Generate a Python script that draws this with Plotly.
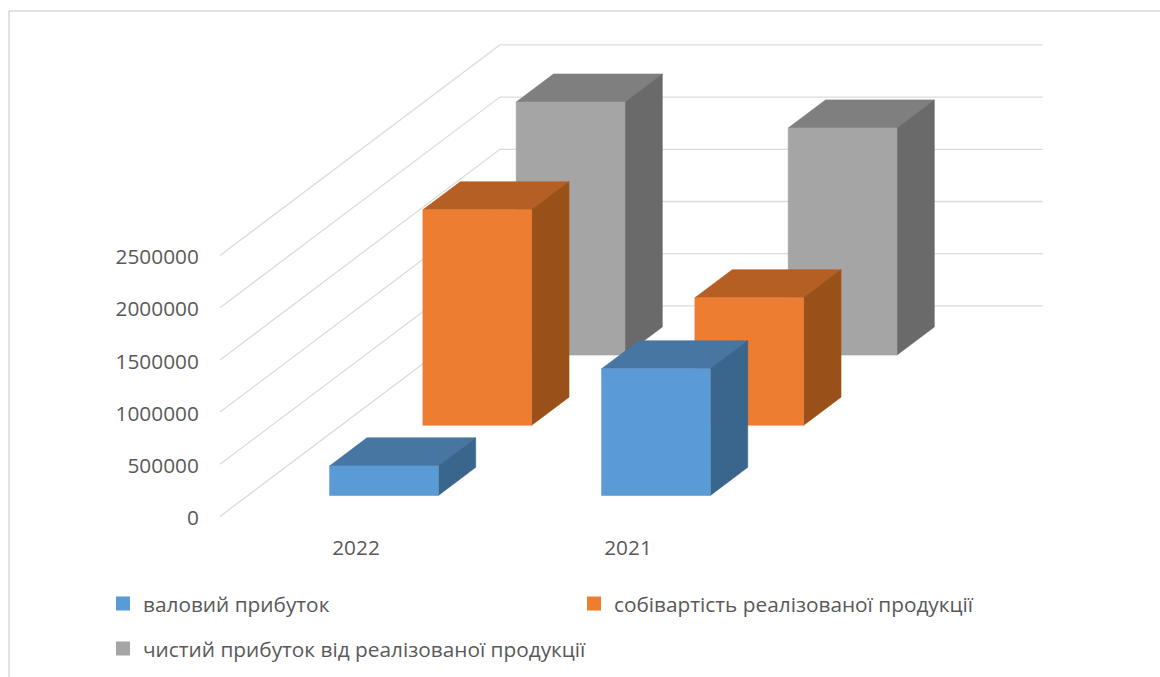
import plotly.graph_objects as go

categories = ["2022", "2021"]
series_names = ["валовий прибуток", "собівартість реалізованої продукції", "чистий прибуток від реалізованої продукції"]
values_gross = [283000, 1213000]
values_cost = [2063000, 1221000]
values_net = [2423000, 2175000]
tick_values = [0, 500000, 1000000, 1500000, 2000000, 2500000]

W, H = 1160, 677
X0, Y0 = 220.0, 516.5          # pixel position of the front-left floor corner
CAT_PX = 272.0                 # pixels per category
VAL_PX = 52.2 / 500000         # pixels per unit of value
DEPTH_X, DEPTH_Y = 93.3, 70.2  # pixel shift per series along the depth axis
LABEL_SHIFT = 1.5              # tick labels sit slightly below their gridline starts
FONT = "Open Sans"
TEXT = "#595959"
GRID = "#dcdcdc"

palette = [
    dict(front="#5B9BD5", top="#4776A2", side="#3A658C"),
    dict(front="#ED7D31", top="#B55F25", side="#9A5119"),
    dict(front="#A5A5A5", top="#7F7F7F", side="#6A6A6A"),
]
all_values = [values_gross, values_cost, values_net]


def project(cat, val, depth):
    """Oblique projection of (category, value, depth) onto the 2D axes."""
    return cat + depth * DEPTH_X / CAT_PX, val + depth * DEPTH_Y / VAL_PX


def polygon(points, color):
    pts = [project(*p) for p in points] + [project(*points[0])]
    return go.Scatter(x=[p[0] for p in pts], y=[p[1] for p in pts], mode="lines",
                      fill="toself", fillcolor=color, line=dict(width=0.6, color=color),
                      hoverinfo="skip", showlegend=False)


fig = go.Figure()

# gridlines on the side and back walls
for v in tick_values:
    pts = [project(0, v, 0), project(0, v, 3), project(1.996, v, 3)]
    fig.add_trace(go.Scatter(x=[p[0] for p in pts], y=[p[1] for p in pts], mode="lines",
                             line=dict(color=GRID, width=1.3), hoverinfo="skip", showlegend=False))

# bars, back series first
for s in (2, 1, 0):
    c = palette[s]
    for i, v in enumerate(all_values[s]):
        l, r = i + 0.3, i + 0.7
        d0, d1 = s + 0.3, s + 0.7
        fig.add_trace(polygon([(l, v, d0), (r, v, d0), (r, v, d1), (l, v, d1)], c["top"]))
        fig.add_trace(polygon([(r, 0, d0), (r, 0, d1), (r, v, d1), (r, v, d0)], c["side"]))
        fig.add_trace(polygon([(l, 0, d0), (r, 0, d0), (r, v, d0), (l, v, d0)], c["front"]))

# legend entries
legend_ids = ["legend", "legend2", "legend3"]
for s, name in enumerate(series_names):
    fig.add_trace(go.Scatter(x=[None], y=[None], mode="markers", name=name, legend=legend_ids[s],
                             marker=dict(symbol="square", size=14, color=palette[s]["front"])))

# carrier for the value-axis labels
fig.add_trace(go.Scatter(x=[None], y=[None], yaxis="y2", hoverinfo="skip", showlegend=False))


def legend_box(px, py):
    return dict(x=px / W, y=1 - py / H, xanchor="left", yanchor="middle",
                bgcolor="rgba(0,0,0,0)", font=dict(family=FONT, size=20.8, color=TEXT),
                itemclick=False, itemdoubleclick=False)


fig.update_layout(
    width=W, height=H, margin=dict(l=0, r=0, t=0, b=0),
    paper_bgcolor="white", plot_bgcolor="white", showlegend=True,
    font=dict(family=FONT, size=20, color=TEXT),
    xaxis=dict(domain=[0, 1], range=[-X0 / CAT_PX, (W - X0) / CAT_PX],
               anchor="free", position=1 - Y0 / H,
               tickmode="array", tickvals=[0.5, 1.5], ticktext=categories,
               ticks="outside", ticklen=13, tickcolor="rgba(0,0,0,0)",
               showgrid=False, zeroline=False, showline=False,
               tickfont=dict(family=FONT, size=20.8, color=TEXT)),
    yaxis=dict(domain=[0, 1], range=[-(H - Y0) / VAL_PX, Y0 / VAL_PX],
               showticklabels=False, ticks="",
               showgrid=False, zeroline=False, showline=False),
    yaxis2=dict(domain=[0, 1], overlaying="y",
                range=[-(H - Y0 - LABEL_SHIFT) / VAL_PX, (Y0 + LABEL_SHIFT) / VAL_PX],
                anchor="free", position=X0 / W, side="left",
                tickmode="array", tickvals=tick_values, ticktext=[str(v) for v in tick_values],
                ticks="outside", ticklen=17, tickcolor="rgba(0,0,0,0)",
                showgrid=False, zeroline=False, showline=False,
                tickfont=dict(family=FONT, size=20.8, color=TEXT)),
    legend=legend_box(103, 604),
    legend2=legend_box(574, 604),
    legend3=legend_box(103, 649),
    shapes=[
        dict(type="line", xref="paper", yref="paper", x0=9 / W, x1=1, y0=1 - 11 / H, y1=1 - 11 / H,
             line=dict(color="#d9d9d9", width=1.5)),
        dict(type="line", xref="paper", yref="paper", x0=9 / W, x1=9 / W, y0=1 - 11 / H, y1=0,
             line=dict(color="#d9d9d9", width=1.5)),
    ],
)

fig.write_html("out.html", config={"displayModeBar": False},
               post_script="document.body.style.margin='0';document.body.style.overflow='hidden';")
